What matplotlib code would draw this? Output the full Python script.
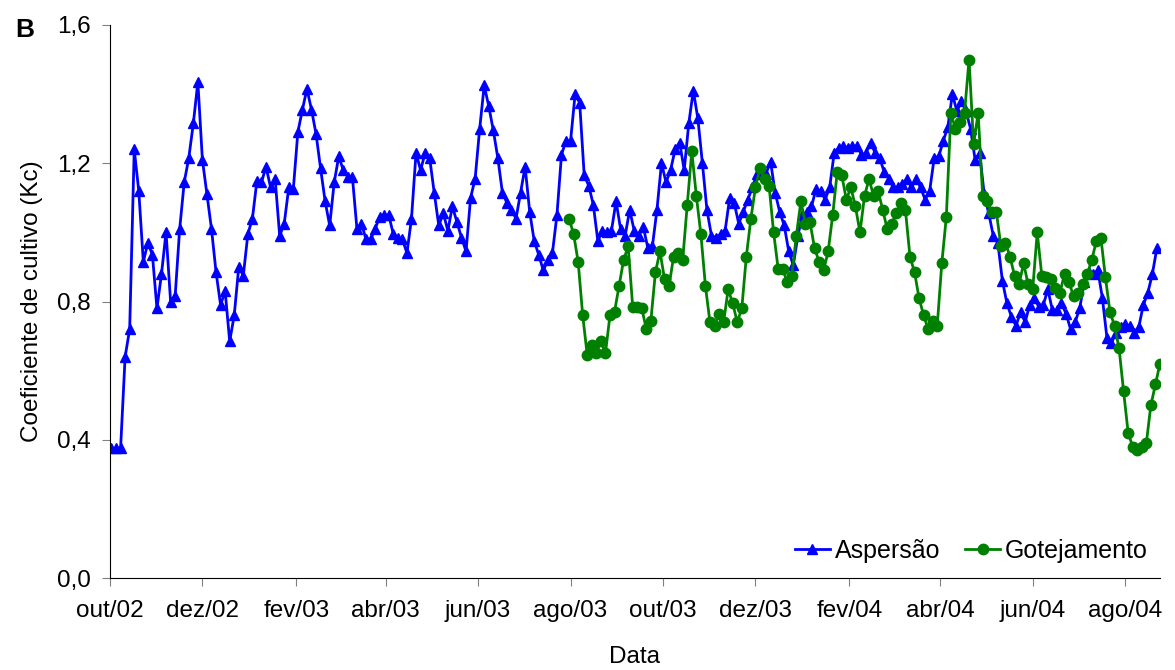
import matplotlib
matplotlib.use("Agg")
import matplotlib.pyplot as plt
import pandas as pd

plt.rcParams['font.family'] = ['Liberation Sans', 'DejaVu Sans']

# Kc values read every 3 days
aspersao_start = "2002-10-02"
aspersao = [
    0.375, 0.375, 0.375, 0.64, 0.72, 1.24, 1.12, 0.915, 0.97, 0.935,
    0.78, 0.88, 1.00, 0.80, 0.815, 1.01, 1.145, 1.215, 1.315, 1.435,
    1.21, 1.11, 1.01, 0.885, 0.79, 0.83, 0.685, 0.76, 0.90, 0.875,
    0.995, 1.04, 1.15, 1.145, 1.19, 1.13, 1.155, 0.99, 1.025, 1.13,
    1.125, 1.29, 1.355, 1.415, 1.355, 1.285, 1.185, 1.09, 1.02, 1.145,
    1.22, 1.18, 1.16, 1.16, 1.01, 1.025, 0.98, 0.98, 1.01, 1.045,
    1.05, 1.05, 0.995, 0.985, 0.98, 0.94, 1.04, 1.23, 1.18, 1.23,
    1.215, 1.115, 1.02, 1.055, 1.005, 1.075, 1.03, 0.985, 0.945, 1.10,
    1.155, 1.30, 1.425, 1.365, 1.295, 1.215, 1.115, 1.085, 1.065, 1.04,
    1.115, 1.19, 1.06, 0.975, 0.935, 0.89, 0.92, 0.94, 1.05, 1.225,
    1.265, 1.265, 1.40, 1.375, 1.165, 1.135, 1.08, 0.975, 1.005, 1.00,
    1.005, 1.09, 1.01, 0.99, 1.065, 1.005, 0.99, 1.015, 0.955, 0.96,
    1.065, 1.20, 1.145, 1.18, 1.24, 1.26, 1.18, 1.315, 1.41, 1.33,
    1.20, 1.065, 0.99, 0.985, 0.995, 1.005, 1.10, 1.085, 1.025, 1.06,
    1.095, 1.13, 1.17, 1.175, 1.17, 1.205, 1.115, 1.06, 1.02, 0.945,
    0.905, 0.99, 1.05, 1.06, 1.075, 1.125, 1.12, 1.095, 1.13, 1.23,
    1.245, 1.25, 1.245, 1.25, 1.25, 1.225, 1.23, 1.26, 1.23, 1.215,
    1.175, 1.155, 1.13, 1.13, 1.14, 1.155, 1.13, 1.155, 1.13, 1.095,
    1.12, 1.215, 1.22, 1.265, 1.305, 1.40, 1.35, 1.38, 1.35, 1.30,
    1.21, 1.23, 1.11, 1.055, 0.99, 0.97, 0.86, 0.795, 0.755, 0.73,
    0.77, 0.74, 0.79, 0.81, 0.785, 0.79, 0.835, 0.775, 0.775, 0.795,
    0.765, 0.72, 0.74, 0.78, 0.855, 0.885, 0.88, 0.89, 0.81, 0.695,
    0.68, 0.71, 0.725, 0.735, 0.73, 0.71, 0.725, 0.79, 0.825, 0.88,
    0.955,
]

gotejamento_start = "2003-07-31"
gotejamento = [
    1.04, 0.995, 0.915, 0.76, 0.645, 0.675, 0.65, 0.685, 0.65, 0.76,
    0.77, 0.845, 0.92, 0.96, 0.785, 0.785, 0.78, 0.72, 0.745, 0.885,
    0.945, 0.865, 0.845, 0.93, 0.94, 0.92, 1.08, 1.235, 1.105, 0.995,
    0.845, 0.74, 0.73, 0.765, 0.74, 0.835, 0.795, 0.74, 0.78, 0.93,
    1.04, 1.13, 1.185, 1.155, 1.135, 1.00, 0.895, 0.895, 0.855, 0.875,
    0.99, 1.09, 1.025, 1.03, 0.955, 0.915, 0.89, 0.945, 1.05, 1.175,
    1.165, 1.095, 1.13, 1.075, 1.00, 1.105, 1.155, 1.105, 1.12, 1.065,
    1.01, 1.025, 1.055, 1.085, 1.065, 0.93, 0.885, 0.81, 0.76, 0.72,
    0.745, 0.73, 0.91, 1.045, 1.345, 1.30, 1.32, 1.345, 1.50, 1.255,
    1.345, 1.105, 1.09, 1.06, 1.06, 0.96, 0.97, 0.93, 0.875, 0.85,
    0.91, 0.85, 0.835, 1.00, 0.875, 0.87, 0.865, 0.84, 0.825, 0.88,
    0.855, 0.815, 0.825, 0.85, 0.88, 0.92, 0.975, 0.985, 0.87, 0.77,
    0.73, 0.665, 0.54, 0.42, 0.38, 0.37, 0.38, 0.39, 0.50, 0.56,
    0.62,
]

tick_dates = ["2002-10-01", "2002-12-01", "2003-02-01", "2003-04-01",
              "2003-06-01", "2003-08-01", "2003-10-01", "2003-12-01",
              "2004-02-01", "2004-04-01", "2004-06-01", "2004-08-01"]
tick_labels = ["out/02", "dez/02", "fev/03", "abr/03", "jun/03", "ago/03",
               "out/03", "dez/03", "fev/04", "abr/04", "jun/04", "ago/04"]
y_ticks = [0.0, 0.4, 0.8, 1.2, 1.6]

x_asp = pd.date_range(aspersao_start, periods=len(aspersao), freq="3D")
x_got = pd.date_range(gotejamento_start, periods=len(gotejamento), freq="3D")

fs = 17.5

fig = plt.figure(figsize=(11.75, 6.7), dpi=100)
ax = fig.add_axes([0.0936, 0.1373, 0.8936, 0.8254])

ax.plot(x_asp, aspersao, color="#0000FF", lw=2, marker="^", ms=7.5,
        label="Aspersão")
ax.plot(x_got, gotejamento, color="#008000", lw=2, marker="o", ms=7.5,
        label="Gotejamento")

ax.set_xlim(pd.Timestamp("2002-10-01"), pd.Timestamp("2004-08-24"))
ax.set_ylim(0, 1.6)
ax.set_xticks(pd.to_datetime(tick_dates))
ax.set_xticklabels(tick_labels)
ax.set_yticks(y_ticks)
ax.set_yticklabels([f"{v:.1f}".replace(".", ",") for v in y_ticks])

for s in ["top", "right"]:
    ax.spines[s].set_visible(False)
ax.tick_params(axis="both", labelsize=fs, direction="out", length=6,
               color="#808080")
ax.tick_params(axis="x", pad=10)
ax.tick_params(axis="y", pad=8)

ax.set_xlabel("Data", fontsize=fs, labelpad=17)
ax.set_ylabel("Coeficiente de cultivo (Kc)", fontsize=fs, labelpad=10)

ax.legend(loc="lower right", ncol=2, frameon=False, fontsize=18,
          handlelength=1.4, handletextpad=0.2, columnspacing=1.0,
          bbox_to_anchor=(1.01, -0.013))

fig.text(0.013, 0.955, "B", fontsize=19, fontweight="bold", va="center")

fig.savefig("out.png", dpi=100)
